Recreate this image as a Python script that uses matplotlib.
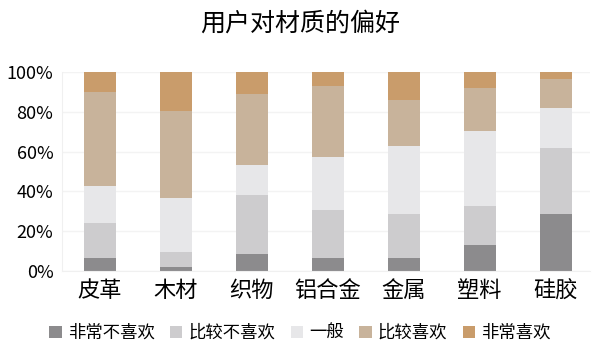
import matplotlib
matplotlib.use("Agg")
import matplotlib.pyplot as plt
import numpy as np

plt.rcParams['font.family'] = ['Noto Sans CJK SC', 'DejaVu Sans']

# materials and the share of each preference level (percent, bottom to top)
materials = ['皮革', '木材', '织物', '铝合金', '金属', '塑料', '硅胶']
levels = ['非常不喜欢', '比较不喜欢', '一般', '比较喜欢', '非常喜欢']
very_dislike = [6.5, 2.0, 8.7, 6.5, 6.5, 13.2, 28.8]
dislike = [17.6, 7.7, 29.6, 24.3, 22.3, 19.6, 33.1]
neutral = [18.8, 26.8, 14.8, 26.5, 34.0, 37.7, 19.8]
like = [46.9, 44.1, 35.6, 35.8, 23.3, 21.6, 14.8]
very_like = [10.2, 19.4, 11.3, 6.9, 13.9, 7.9, 3.5]
colors = ['#8c8b8d', '#cdccce', '#e7e7e9', '#c8b39b', '#c99c6b']

series = [very_dislike, dislike, neutral, like, very_like]

fig = plt.figure(figsize=(6, 3.58), dpi=100)
ax = fig.add_axes([0.103, 0.243, 0.88, 0.556])

x = np.arange(len(materials))
bottom = np.zeros(len(materials))
for vals, name, col in zip(series, levels, colors):
    ax.bar(x, vals, bottom=bottom, width=0.42, color=col, label=name, zorder=2)
    bottom += np.array(vals)

ax.set_xlim(-0.5, 6.45)
ax.set_ylim(0, 100)
ax.set_yticks([0, 20, 40, 60, 80, 100])
ax.set_yticklabels([str(v) + '%' for v in [0, 20, 40, 60, 80, 100]], fontsize=13)
ax.set_xticks(x)
ax.set_xticklabels(materials, fontsize=16)
ax.tick_params(length=0, pad=6)
ax.yaxis.grid(True, color='#f3f3f3', linewidth=1, zorder=0)
for s in ['top', 'right']:
    ax.spines[s].set_visible(False)
for s in ['left', 'bottom']:
    ax.spines[s].set_color('#f0f0f0')

fig.text(0.5, 0.933, '用户对材质的偏好', fontsize=18, ha='center', va='center')

fig.legend(loc='center', bbox_to_anchor=(0.5, 0.07), ncol=5, frameon=False,
           fontsize=12.5, handlelength=0.7, handleheight=0.7, handletextpad=0.35,
           columnspacing=0.9)

fig.savefig('out.png', dpi=100)
